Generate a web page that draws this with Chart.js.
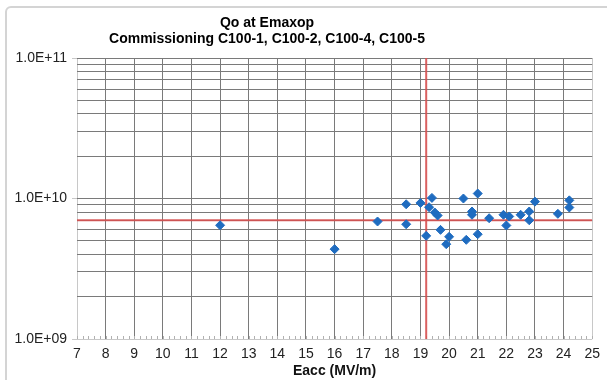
<!DOCTYPE html>
<html>
<head>
<meta charset="utf-8">
<script src="https://cdn.jsdelivr.net/npm/chart.js@4.4.1/dist/chart.umd.min.js"></script>
<style>
    body { margin: 0; background: #fff; overflow: hidden; }
    #wrap { position: relative; width: 607px; height: 380px; }
    #frame { position: absolute; left: 5px; top: 6px; width: 640px; height: 420px; border: 2px solid #d4d4d4; border-radius: 6px; }
    canvas { position: absolute; left: 0; top: 0; }
</style>
</head>
<body>
<div id="wrap">
    <div id="frame"></div>
    <canvas id="chart" width="607" height="380"></canvas>
</div>
<script>
// data
const eacc = [12.0, 16.0, 17.5, 18.5, 18.5, 19.0, 19.2, 19.3, 19.4, 19.5, 19.6, 19.7, 19.9, 20.0, 20.5, 20.6,
    20.8, 20.8, 21.0, 21.0, 21.4, 21.9, 22.0, 22.1, 22.5, 22.8, 22.8, 23.0, 23.8, 24.2, 24.2]
const qo = [6.45e9, 4.36e9, 6.86e9, 9.1e9, 6.56e9, 9.3e9, 5.42e9, 8.67e9, 1.01e10, 7.95e9, 7.57e9, 5.98e9, 4.73e9, 5.34e9, 1.0e10, 5.08e9,
    8.08e9, 7.66e9, 1.085e10, 5.57e9, 7.24e9, 7.66e9, 6.43e9, 7.45e9, 7.66e9, 8.08e9, 7.0e9, 9.5e9, 7.78e9, 9.7e9, 8.63e9]

// red reference lines
const specLineX = [7, 25]
const specLineY = [7e9, 7e9]
const opLineX = [19.2, 19.2]
const opLineY = [1e9, 1e11]

// minor ticks along the bottom edge
const minorStep = 0.2

const titleLines = ['Qo at Emaxop', 'Commissioning C100-1, C100-2, C100-4, C100-5']
const xTitle = 'Eacc (MV/m)'
const xMin = 7, xMax = 25
const yMin = 1e9, yMax = 1e11

const font = "'Liberation Sans', Arial, sans-serif"
const gridDark = '#7a7a7a'
const gridLight = '#c8c8c8'

function sci(v) {
    const e = Math.round(Math.log10(v))
    const m = (v / Math.pow(10, e)).toFixed(1)
    return m + 'E' + (e < 0 ? '-' : '+') + String(Math.abs(e)).padStart(2, '0')
}

function isDecade(v) {
    const l = Math.log10(v)
    return Math.abs(l - Math.round(l)) < 1e-9
}

const titlePlugin = {
    id: 'twoLineTitle',
    afterDraw(chart) {
        const ctx = chart.ctx
        ctx.save()
        ctx.fillStyle = '#000'
        ctx.font = 'bold 14px ' + font
        ctx.textAlign = 'center'
        ctx.textBaseline = 'middle'
        ctx.fillText(titleLines[0], 267, 23)
        ctx.fillText(titleLines[1], 267, 39)
        ctx.restore()
    }
}

// little upward ticks on the x axis, Excel style
const minorTicks = {
    id: 'minorTicks',
    beforeDatasetsDraw(chart) {
        const ctx = chart.ctx
        const x = chart.scales.x
        const bottom = chart.chartArea.bottom
        ctx.save()
        ctx.strokeStyle = '#b0b0b0'
        ctx.lineWidth = 1
        ctx.beginPath()
        for (let v = xMin; v <= xMax + 1e-9; v += minorStep) {
            const px = Math.round(x.getPixelForValue(v)) + 0.5
            ctx.moveTo(px, bottom)
            ctx.lineTo(px, bottom - 3)
        }
        ctx.stroke()
        ctx.restore()
    }
}

new Chart(document.getElementById('chart'), {
    type: 'scatter',
    data: {
        datasets: [
            {
                data: eacc.map((x, i) => ({ x: x, y: qo[i] })),
                pointStyle: 'rectRot',
                pointRadius: 4.5,
                pointBackgroundColor: '#1f6cc0',
                pointBorderColor: '#1f6cc0',
                pointBorderWidth: 1,
                order: 1
            },
            {
                data: specLineX.map((x, i) => ({ x: x, y: specLineY[i] })),
                showLine: true,
                borderColor: 'rgba(214,80,80,0.9)',
                borderWidth: 2,
                pointRadius: 0,
                order: 2
            },
            {
                data: opLineX.map((x, i) => ({ x: x, y: opLineY[i] })),
                showLine: true,
                borderColor: 'rgba(214,80,80,0.9)',
                borderWidth: 2,
                pointRadius: 0,
                order: 2
            }
        ]
    },
    options: {
        responsive: false,
        animation: false,
        layout: { padding: { top: 58, left: 0, right: 11, bottom: 0 } },
        plugins: {
            legend: { display: false },
            title: { display: false },
            tooltip: { enabled: false }
        },
        scales: {
            x: {
                type: 'linear',
                min: xMin,
                max: xMax,
                ticks: {
                    stepSize: 1,
                    padding: 7,
                    color: '#222',
                    font: { family: font, size: 14 }
                },
                grid: {
                    color: ctx => (ctx.tick && (ctx.tick.value === xMin || ctx.tick.value === xMax)) ? gridLight : gridDark,
                    drawTicks: false
                },
                border: { display: false },
                title: {
                    display: true,
                    text: xTitle,
                    color: '#111',
                    padding: { top: 0, bottom: 0 },
                    font: { family: font, size: 14, weight: 'bold' }
                },
                afterFit: scale => { scale.height = 41 }
            },
            y: {
                type: 'logarithmic',
                min: yMin,
                max: yMax,
                afterBuildTicks: scale => {
                    const ticks = []
                    for (let e = 9; e < 11; e++) {
                        for (let m = 1; m < 10; m++) ticks.push({ value: m * Math.pow(10, e) })
                    }
                    ticks.push({ value: yMax })
                    scale.ticks = ticks
                },
                ticks: {
                    autoSkip: false,
                    padding: 5,
                    color: '#222',
                    font: { family: font, size: 14 },
                    callback: v => isDecade(v) ? sci(v) : ''
                },
                grid: {
                    color: ctx => (ctx.tick && ctx.tick.value === yMin) ? gridLight : gridDark,
                    tickLength: 5,
                    tickColor: ctx => isDecade(ctx.tick.value) ? gridLight : 'rgba(0,0,0,0)'
                },
                border: { display: false },
                afterFit: scale => { scale.width = 77 }
            }
        }
    },
    plugins: [titlePlugin, minorTicks]
});
</script>
</body>
</html>
